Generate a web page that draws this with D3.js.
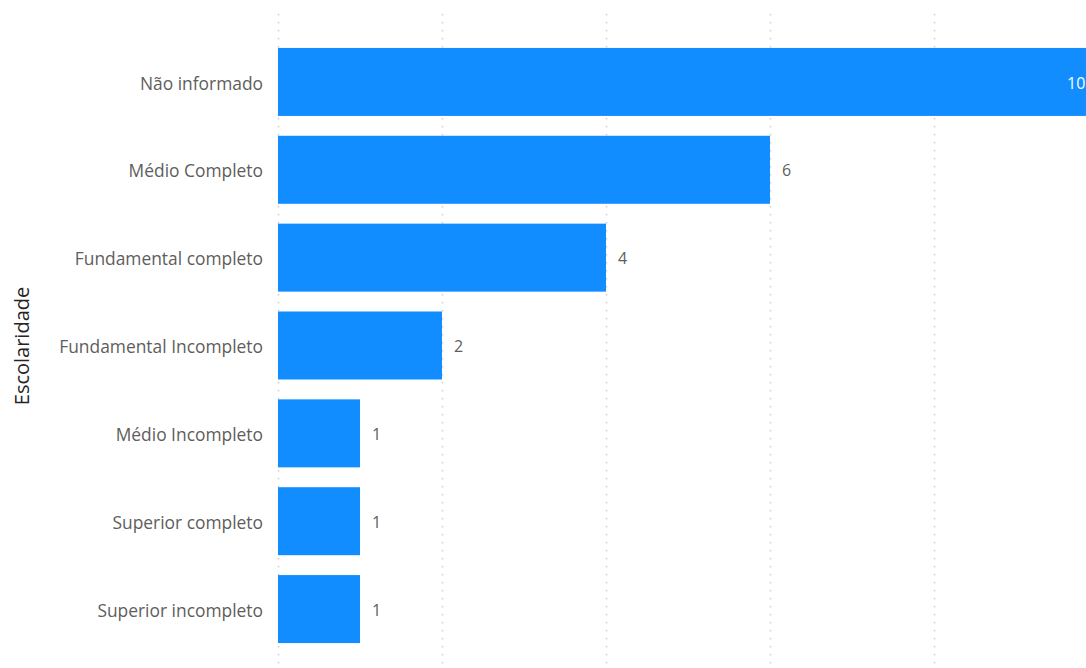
<!DOCTYPE html>
<html>
<head>
<meta charset="utf-8">
<script src="https://cdn.jsdelivr.net/npm/d3@7"></script>
<style>
  html, body { margin: 0; padding: 0; background: #fff; overflow: hidden; }
  svg { display: block; }
</style>
</head>
<body>
<svg id="chart" width="1086" height="668"></svg>
<script>
// Escolaridade — count per education level
const categories = [
  "Não informado",
  "Médio Completo",
  "Fundamental completo",
  "Fundamental Incompleto",
  "Médio Incompleto",
  "Superior completo",
  "Superior incompleto"
];
const values = [10, 6, 4, 2, 1, 1, 1];
const xTicks = [0, 2, 4, 6, 8, 10];

const data = categories.map((c, i) => ({ category: c, value: values[i] }));

const svg = d3.select("#chart");
const W = 1086, H = 668;
const font = "'Open Sans', 'Noto Sans', sans-serif";

const x = d3.scaleLinear().domain([0, 10]).range([278, 1098]);
const y = d3.scaleBand()
  .domain(categories)
  .range([38, 653])
  .paddingInner(0.226)
  .paddingOuter(0.113);

// dotted vertical gridlines
svg.append("g")
  .selectAll("line")
  .data(xTicks)
  .join("line")
  .attr("x1", d => Math.round(x(d)) + 0.5)
  .attr("x2", d => Math.round(x(d)) + 0.5)
  .attr("y1", 14)
  .attr("y2", H)
  .attr("stroke", "#cfcdcb")
  .attr("stroke-width", 1.5)
  .attr("stroke-dasharray", "1.5,6.5");

// bars
svg.append("g")
  .selectAll("rect")
  .data(data)
  .join("rect")
  .attr("x", x(0))
  .attr("y", d => y(d.category))
  .attr("width", d => x(d.value) - x(0))
  .attr("height", y.bandwidth())
  .attr("fill", "#118dff");

// category axis labels
const yAxis = d3.axisLeft(y).tickSize(0).tickPadding(15);
const gy = svg.append("g")
  .attr("transform", `translate(${x(0)},2)`)
  .call(yAxis);
gy.select(".domain").remove();
gy.selectAll("text")
  .attr("fill", "#605e5c")
  .style("font-family", font)
  .style("font-size", "17.4px");

// axis title
svg.append("text")
  .attr("transform", `translate(22,346) rotate(-90)`)
  .attr("text-anchor", "middle")
  .attr("dy", "0.35em")
  .attr("fill", "#252423")
  .style("font-family", font)
  .style("font-size", "20px")
  .text("Escolaridade");

// value labels: inside end for the widest bar, outside otherwise
const maxV = d3.max(values);
svg.append("g")
  .selectAll("text")
  .data(data)
  .join("text")
  .attr("x", d => d.value === maxV ? x(d.value) - 31 : x(d.value) + 12)
  .attr("y", d => y(d.category) + y.bandwidth() / 2 + 1)
  .attr("dy", "0.35em")
  .attr("fill", d => d.value === maxV ? "#ffffff" : "#605e5c")
  .style("font-family", font)
  .style("font-size", "16px")
  .text(d => d.value);
</script>
</body>
</html>
